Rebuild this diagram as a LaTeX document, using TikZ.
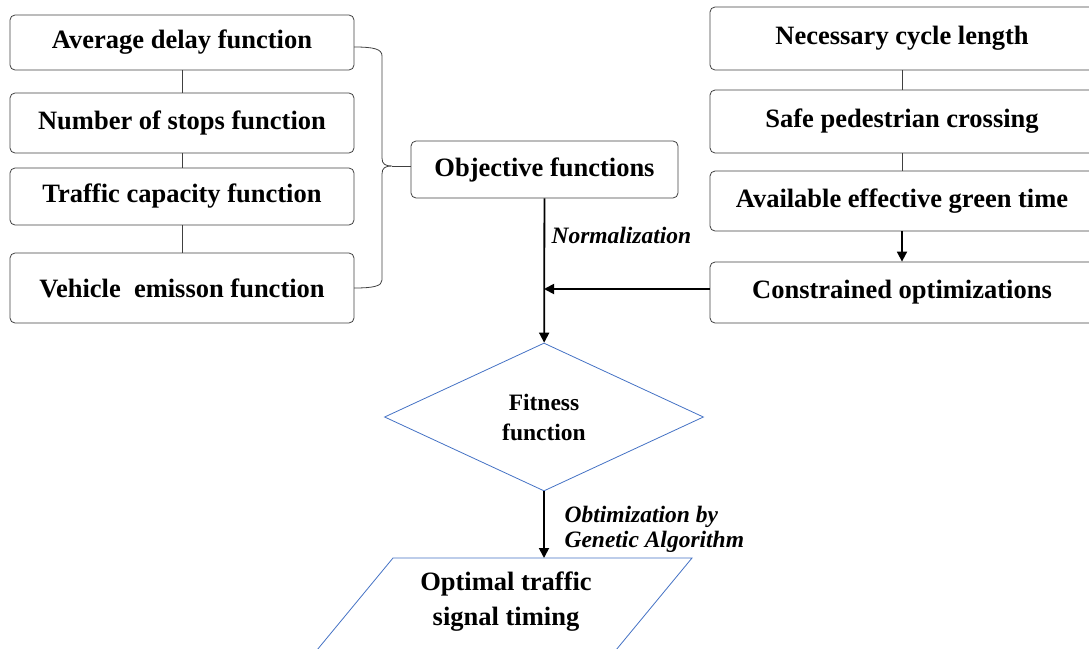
\documentclass[tikz,border=0pt]{standalone}
\usepackage{fontspec}
\setmainfont{Liberation Serif}
\usetikzlibrary{arrows.meta, shapes.geometric}

\definecolor{flowblue}{RGB}{68,114,196}

\begin{document}
\begin{tikzpicture}[x = 1pt, y = 1pt,
	box/.style = {draw = black!75, line width = 0.8pt,
				  rounded corners = 5pt,
				  font = \fontsize{26.5}{30}\selectfont\bfseries},
	flow/.style = {draw = flowblue, line width = 0.8pt},
	link/.style = {draw = black!75, line width = 0.8pt},
	arr/.style = {line width = 1.8pt, -{Triangle[length = 10pt, width = 10pt]}},
	lbl/.style = {font = \fontsize{23.5}{25}\selectfont\bfseries\itshape,
				  align = left, anchor = west}
	]
	\useasboundingbox (0, 0) rectangle (1089, -648);

	% objective side
	\draw (182, -42.5) node[box,
					  minimum width = 344, minimum height = 55
			   ](avg){Average delay function};
	\draw (182, -123) node[box,
					  minimum width = 344, minimum height = 60
			   ](stops){Number of stops function};
	\draw (182, -196.5) node[box,
					  minimum width = 344, minimum height = 57
			   ](cap){Traffic capacity function};
	\draw (182, -288) node[box,
					  minimum width = 344, minimum height = 70
			   ](emis){Vehicle\ \ emisson function};

	\draw[link] (avg) -- (stops);
	\draw[link] (stops) -- (cap);
	\draw[link] (cap) -- (emis);

	\draw (544.5, -169.5) node[box,
					  minimum width = 267, minimum height = 57
			   ](obj){Objective functions};

	% brace
	\coordinate (tip) at (392, -166);
	\draw[link] (354, -47) .. controls (374, -47) and (382, -49) .. (382, -56)
		-- (382, -158) .. controls (382, -164) and (385, -166) .. (tip)
		.. controls (385, -166) and (382, -168) .. (382, -174)
		-- (382, -280) .. controls (382, -286) and (374, -288) .. (354, -288);
	\draw[link] (tip) -- (obj.west |- tip);

	% constraint side
	\draw (902, -38.5) node[box,
					  minimum width = 384, minimum height = 63
			   ](cyc){Necessary cycle length};
	\draw (902, -121.5) node[box,
					  minimum width = 384, minimum height = 63
			   ](ped){Safe pedestrian crossing};
	\draw (902, -201) node[box,
					  minimum width = 384, minimum height = 60
			   ](green){Available effective green time};
	\draw (902, -292.5) node[box,
					  minimum width = 384, minimum height = 61
			   ](con){Constrained optimizations};

	\draw[link] (cyc) -- (ped);
	\draw[link] (ped) -- (green);
	\draw[arr] (green) -- (con);

	% fitness
	\draw (544, -417) node[flow, shape = diamond,
					  minimum width = 319, minimum height = 148, inner sep = 0,
					  align = center,
					  font = \fontsize{23.5}{30}\selectfont\bfseries
			   ](fit){Fitness\\function};

	\draw[arr] (obj) -- (fit);
	\draw[arr] (con.west |- 0, -289) -- (544, -289);
	\draw (548, -235) node[lbl](norm){Normalization};

	% result
	\draw[flow] (393, -558) -- (692, -558) -- (616, -650) -- (317, -650) -- cycle;
	\coordinate (opttop) at (544, -558);
	\draw (506, -602) node[align = center,
					  font = \fontsize{26.5}{35}\selectfont\bfseries
			   ](opt){Optimal traffic\\signal timing};

	\draw[arr] (fit) -- (opttop);
	\draw (561, -529.5) node[lbl](ga){Obtimization by\\Genetic Algorithm};
\end{tikzpicture}
\end{document}
